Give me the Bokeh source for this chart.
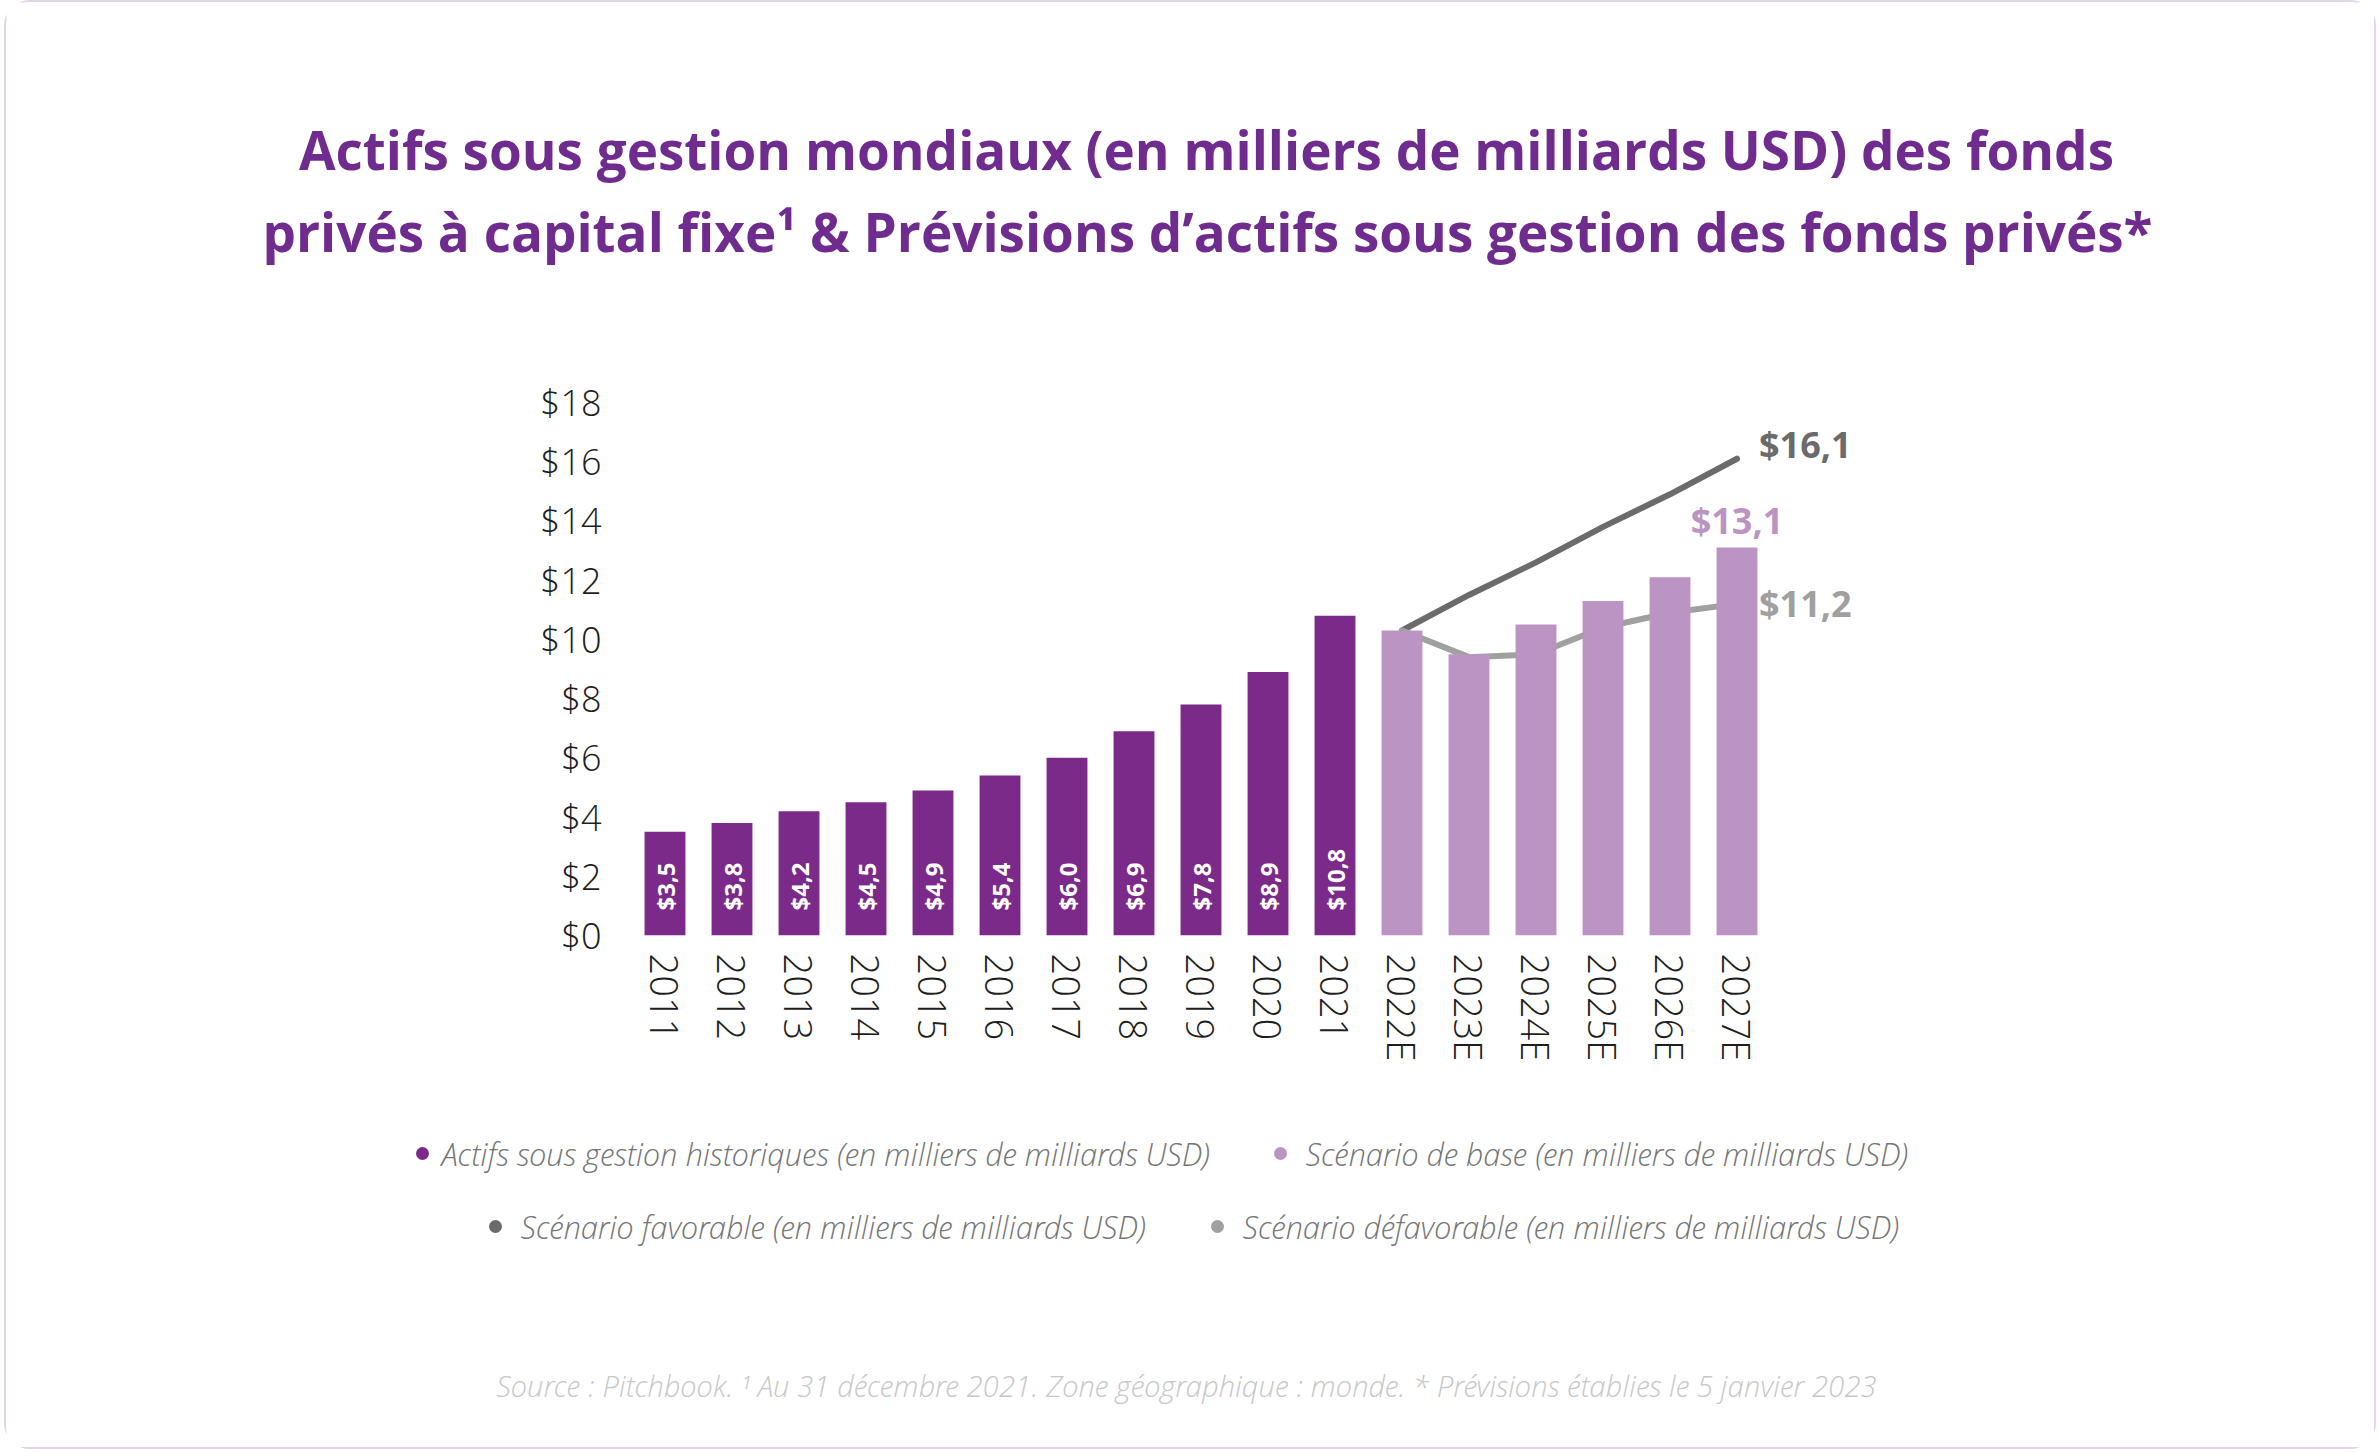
import math
from bokeh.plotting import figure
from bokeh.layouts import column
from bokeh.models import ColumnDataSource, Range1d, FixedTicker, LabelSet
from bokeh.embed import file_html
from bokeh.resources import INLINE
from bokeh.core.properties import value

# ---------------- data ----------------
title_lines = [
    "Actifs sous gestion mondiaux (en milliers de milliards USD) des fonds",
    "privés à capital fixe¹ & Prévisions d’actifs sous gestion des fonds privés*",
]
hist_years = ["2011", "2012", "2013", "2014", "2015", "2016", "2017", "2018", "2019", "2020", "2021"]
hist_values = [3.5, 3.8, 4.2, 4.5, 4.9, 5.4, 6.0, 6.9, 7.8, 8.9, 10.8]
fc_years = ["2022E", "2023E", "2024E", "2025E", "2026E", "2027E"]
base_values = [10.3, 9.5, 10.5, 11.3, 12.1, 13.1]
fav_values = [10.3, 11.5, 12.6, 13.8, 14.9, 16.1]
unfav_values = [10.3, 9.4, 9.5, 10.4, 10.9, 11.2]
y_ticks = [0, 2, 4, 6, 8, 10, 12, 14, 16, 18]
y_tick_labels = ["$0", "$2", "$4", "$6", "$8", "$10", "$12", "$14", "$16", "$18"]
legend_row1 = ["Actifs sous gestion historiques (en milliers de milliards USD)",
               "Scénario de base (en milliers de milliards USD)"]
legend_row2 = ["Scénario favorable (en milliers de milliards USD)",
               "Scénario défavorable (en milliers de milliards USD)"]
source_note = ("Source : Pitchbook. ¹ Au 31 décembre 2021. Zone géographique : monde. "
               "* Prévisions établies le 5 janvier 2023")

def money(v):
    return "$" + f"{v:.1f}".replace(".", ",")

categories = hist_years + fc_years
xpos = {c: i for i, c in enumerate(categories)}
hist_x = [xpos[c] for c in hist_years]
fc_x = [xpos[c] for c in fc_years]

# ---------------- style ----------------
C_HIST = "#7B2A8A"
C_BASE = "#BC94C4"
C_FAV = "#6B6B6B"
C_UNFAV = "#A0A0A0"
C_TITLE = "#6F2C8E"
LIGHT = "Open Sans Light"
REG = "Open Sans"

OX, OY = 6, 2          # page position of the whole layout
W = 2368
HA, HB, HC = 368, 730, 347
TOP_A, TOP_B, TOP_C = OY, OY + HA, OY + HA + HB


def blank(h):
    f = figure(width=W, height=h, x_range=Range1d(0, W), y_range=Range1d(h, 0),
               output_backend="svg", toolbar_location=None, x_axis_type=None,
               y_axis_type=None, min_border=0, title=None)
    f.min_border_left = f.min_border_right = f.min_border_top = f.min_border_bottom = 0
    f.frame_align = False
    f.outline_line_color = None
    f.grid.visible = False
    f.background_fill_color = "white"
    f.border_fill_color = "white"
    return f

# ---------- title ----------
pa = blank(HA)
pa.text(x=[1206 - OX, 1207 - OX], y=[149 - TOP_A, 231 - TOP_A], text=title_lines,
        text_align="center", text_baseline="middle", text_color=C_TITLE,
        text_font=value(REG), text_font_style="bold", text_font_size="53px")

# ---------- main chart ----------
FL, FR, FT, FB = 631, 1904, 402, 935     # frame edges on page
x_start, x_end = -0.5, 18.5
pb = figure(width=W, height=HB, x_range=Range1d(x_start, x_end), y_range=Range1d(0, 18),
            output_backend="svg", toolbar_location=None, title=None,
            min_border_left=FL - OX, min_border_right=OX + W - FR,
            min_border_top=FT - TOP_B, min_border_bottom=TOP_B + HB - FB)
pb.frame_align = False
pb.outline_line_color = None
pb.grid.visible = False
pb.background_fill_color = "white"
pb.border_fill_color = "white"

for ax in (pb.xaxis, pb.yaxis):
    ax.axis_line_color = None
    ax.major_tick_line_color = None
    ax.minor_tick_line_color = None
    ax.major_label_text_color = "#1E1E1E"
    ax.major_label_text_font = LIGHT

pb.yaxis.ticker = FixedTicker(ticks=y_ticks)
pb.yaxis.major_label_overrides = dict(zip(y_ticks, y_tick_labels))
pb.yaxis.major_label_text_font_size = "36px"
pb.yaxis.major_label_standoff = 24
pb.xaxis.ticker = FixedTicker(ticks=list(range(len(categories))))
pb.xaxis.major_label_overrides = {i: c for i, c in enumerate(categories)}
pb.xaxis.major_label_orientation = "vertical"
pb.xaxis.major_label_text_font_size = "38px"
pb.xaxis.major_label_standoff = 12

# lines under bars
pb.line(fc_x, fav_values, line_width=6, line_color=C_FAV, line_cap="round", line_join="round")
pb.line(fc_x, unfav_values, line_width=6, line_color=C_UNFAV, line_cap="round", line_join="round")

pb.vbar(x=hist_x, top=hist_values, width=0.61, fill_color=C_HIST, line_color=None)
pb.vbar(x=fc_x, top=base_values, width=0.61, fill_color=C_BASE, line_color=None)

src_in = ColumnDataSource(dict(x=hist_x, y=[0] * len(hist_x), t=[money(v) for v in hist_values]))
pb.add_layout(LabelSet(source=src_in, x="x", y="y", text="t", angle=math.pi / 2,
                       text_align="left", text_baseline="middle", y_offset=25,
                       text_color="white", text_font=value(REG), text_font_style="bold",
                       text_font_size="24px"))


def end_label(v, color, align, xo, yo):
    s = ColumnDataSource(dict(x=[fc_x[-1]], y=[v], t=[money(v)]))
    pb.add_layout(LabelSet(source=s, x="x", y="y", text="t", text_align=align,
                           text_baseline="middle", x_offset=xo, y_offset=yo,
                           text_color=color, text_font=value(REG), text_font_style="bold",
                           text_font_size="36px"))


end_label(fav_values[-1], C_FAV, "left", 22, 14)
end_label(base_values[-1], C_BASE, "center", 0, 27)
end_label(unfav_values[-1], C_UNFAV, "left", 22, 0)

# ---------- legend & source ----------
pc = blank(HC)
leg_color = "#767676"
rows = [(1153, [(422, 441, C_HIST, legend_row1[0]), (1280, 1305, C_BASE, legend_row1[1])]),
        (1226, [(495, 520, C_FAV, legend_row2[0]), (1217, 1242, C_UNFAV, legend_row2[1])])]
for fy, row in rows:
    for dx, tx, col, txt in row:
        pc.ellipse(x=[dx - OX], y=[fy - TOP_C], width=13, height=13, fill_color=col, line_color=None)
        pc.text(x=[tx - OX], y=[fy - TOP_C], text=[txt], text_align="left",
                text_baseline="middle", text_color=leg_color, text_font=value(LIGHT),
                text_font_style="italic", text_font_size="31px")

pc.text(x=[1186 - OX], y=[1385 - TOP_C], text=[source_note], text_align="center",
        text_baseline="middle", text_color="#C8C8C8", text_font=value(LIGHT),
        text_font_style="italic", text_font_size="29.5px")

layout = column(pa, pb, pc, spacing=0)
layout.styles = {"margin": f"{OY}px 0 0 {OX}px", "outline": "2px solid #E2D5EA",
                 "border-radius": "24px"}

open("out.html", "w").write(file_html(layout, INLINE))
